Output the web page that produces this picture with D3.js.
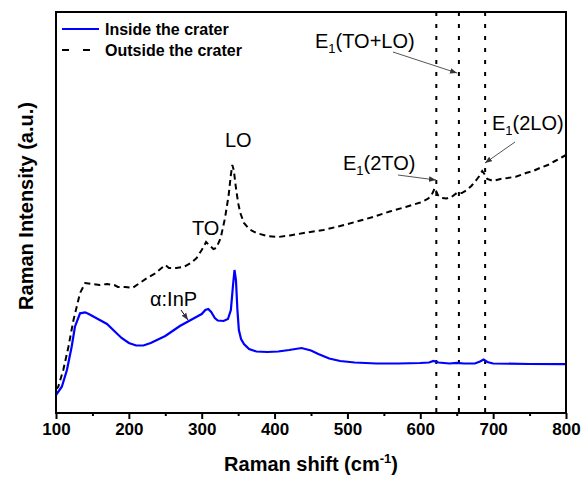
<!DOCTYPE html>
<html><head><meta charset="utf-8">
<script src="https://cdn.jsdelivr.net/npm/d3@7"></script>
<style>body{margin:0;background:#fff}svg{display:block}text{font-family:"Liberation Sans",Arial,sans-serif}</style>
</head><body><svg id="c" width="584" height="480"></svg>
<script>
// Raman shift (cm-1) and intensity (a.u.)
const insideX = [100,108,115,121.5,126,133,140,145,150,160,170,180,190,200,210,220,230,240,250,260,270,280,290,295,300,305,309,313,318,322,330,336,340,343,345,347,349,351,354,358,365,375,390,405,420,437,450,460,475,490,510,540,570,600,612,618,625,640,650,660,675,682,687,692,700,750,800];
const insideY = [18,26.3,43,66.3,86.3,99.7,100.7,99,97,93,89,82,75,70,67.5,67.5,70,73.5,77,82,87,91,95,97,99,103,104,101,95,92.5,92,94,103,128,143,133,103,83,74,69,64,61.5,61,61.5,63,65,62.5,59,54.5,52,50.5,49.5,49.5,50,50.5,52,50.5,49.5,50.2,49.5,49.5,51.5,53.5,51,49.5,49,48.8];
const outsideX = [100,103,110,117,124,133,140,150,160,170,180,185,195,205,215,225,235,245,250,255,265,275,285,293,300,306,310,316,320,326,332,337,340,342,344,347,350,353,358,365,375,390,405,421,440,467,490,513,535,558,580,600,610,615,620,624,630,636,643,650,657,664,670,677,681,685,688,692,700,710,720,732,745,755,764,775,785,795,800];
const outsideY = [24,26,43,66,93,120,130,129,128,129,128,126,126,125,130,135,139,145,148,145,145,146,150,155,163,171,168,164,165,175,195,218,238,248,243,225,210,200,190,184,180,177,176,177.5,180,183,187,191.5,196,201.5,206,210.5,214,217,225,218,215,214.5,216,220,220,223,227,233,237,242,239,234,232,234,235,236.5,240,242,245,248,252,256,258];
const xTicks = [100,200,300,400,500,600,700,800];
const xMinor = [150,250,350,450,550,650,750];
const markerLines = [622,653,689];
const seriesNames = ["Inside the crater","Outside the crater"];

const svg = d3.select("#c");
const L=56,R=566,T=12,B=413;
const x = d3.scaleLinear().domain([100,800]).range([L,R]);
const y = d3.scaleLinear().domain([0,401]).range([B,T]);

// dotted vertical marker lines
svg.selectAll("line.mk").data(markerLines).enter().append("line")
  .attr("x1",d=>x(d)).attr("x2",d=>x(d)).attr("y1",T).attr("y2",B)
  .attr("stroke","#000").attr("stroke-width",2).attr("stroke-dasharray","4,8");

const line = d3.line().x(d=>x(d[0])).y(d=>y(d[1]));
const outside = outsideX.map((v,i)=>[v,outsideY[i]]);
const inside = insideX.map((v,i)=>[v,insideY[i]]);
svg.append("path").attr("d",line(outside)).attr("fill","none").attr("stroke","#000")
  .attr("stroke-width",2).attr("stroke-dasharray","6,4");
svg.append("path").attr("d",line(inside)).attr("fill","none").attr("stroke","#0000ff")
  .attr("stroke-width",2.2);

// frame
svg.append("rect").attr("x",L).attr("y",T).attr("width",R-L).attr("height",B-T)
  .attr("fill","none").attr("stroke","#000").attr("stroke-width",2);

// x axis
const ax = svg.append("g").attr("transform",`translate(0,${B})`)
  .call(d3.axisBottom(x).tickValues(xTicks).tickSize(6).tickPadding(4).tickFormat(d3.format("d")));
ax.select(".domain").remove();
ax.selectAll("line").attr("stroke-width",2);
ax.selectAll("text").attr("font-size",17).attr("font-weight","bold").attr("fill","#000");
const axm = svg.append("g").attr("transform",`translate(0,${B})`)
  .call(d3.axisBottom(x).tickValues(xMinor).tickSize(3).tickFormat(""));
axm.select(".domain").remove();
axm.selectAll("line").attr("stroke-width",2);

// axis titles
const xt = svg.append("text").attr("x",311).attr("y",471).attr("text-anchor","middle")
  .attr("font-size",20).attr("font-weight","bold");
xt.append("tspan").text("Raman shift (cm");
xt.append("tspan").text("-1").attr("font-size",13).attr("dy",-8);
xt.append("tspan").text(")").attr("dy",8);
svg.append("text").attr("transform","translate(33,206) rotate(-90)").attr("text-anchor","middle")
  .attr("font-size",20).attr("font-weight","bold").text("Raman Intensity (a.u.)");

// legend
svg.append("line").attr("x1",62).attr("x2",99).attr("y1",29).attr("y2",29).attr("stroke","#0000ff").attr("stroke-width",2);
svg.append("line").attr("x1",62).attr("x2",92).attr("y1",50).attr("y2",50).attr("stroke","#000").attr("stroke-width",2).attr("stroke-dasharray","7,14");
svg.selectAll("text.lg").data(seriesNames).enter().append("text")
  .attr("x",105).attr("y",(d,i)=>34.5+i*21.2).attr("font-size",16).attr("font-weight","bold").text(d=>d);

// annotations
svg.append("defs").append("marker").attr("id","ah").attr("viewBox","0 0 10 10").attr("refX",10).attr("refY",5)
  .attr("markerWidth",7).attr("markerHeight",7).attr("orient","auto").attr("markerUnits","userSpaceOnUse")
  .append("path").attr("d","M0,1 L10,5 L0,9 Z").attr("fill","#333");
function arrow(x1,y1,x2,y2,c){svg.append("line").attr("x1",x1).attr("y1",y1).attr("x2",x2).attr("y2",y2)
  .attr("stroke",c||"#555").attr("stroke-width",1).attr("marker-end","url(#ah)");}
function label(tx,ty,main,sub,rest){const t=svg.append("text").attr("x",tx).attr("y",ty).attr("font-size",20);
  t.append("tspan").text(main); if(sub){t.append("tspan").text(sub).attr("font-size",13).attr("dy",5);
  t.append("tspan").text(rest).attr("dy",-5);} }
label(225,147,"LO");
label(192,235,"TO");
label(150,306,"\u03b1:InP");
arrow(181,310,188,320,"#000");
label(315,48,"E","1","(TO+LO)");
arrow(393,52,457,73);
label(343,170,"E","1","(2TO)");
arrow(398,175,436,180);
label(492,130,"E","1","(2LO)");
arrow(515,142,485,163);
</script></body></html>
